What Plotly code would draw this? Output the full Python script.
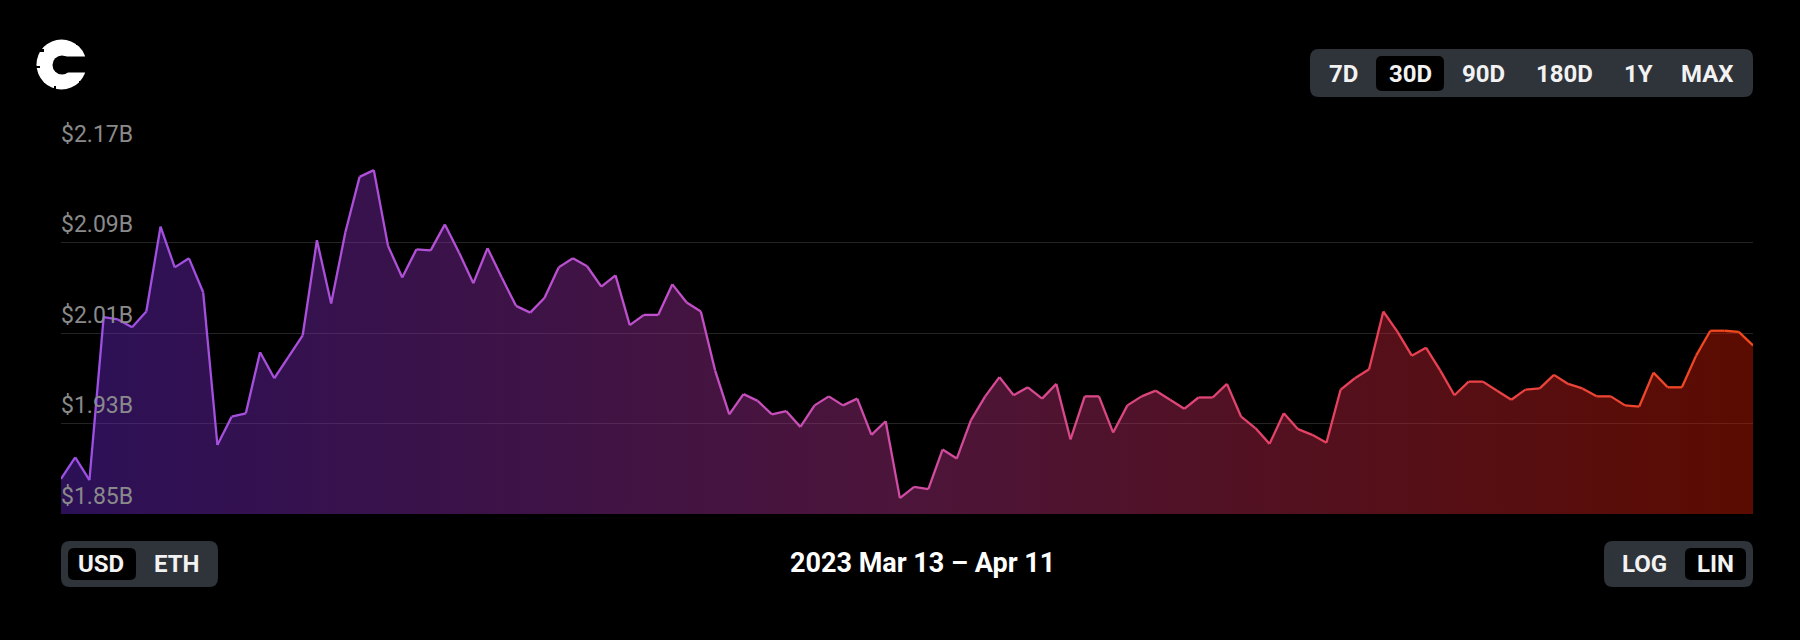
import plotly.graph_objects as go
import pandas as pd

# ---------------- data ----------------
start_date = "2023-03-13"
n_points = 120  # 6-hourly samples over 30 days
volume_b = [
    1.881, 1.900, 1.880, 2.024, 2.022, 2.015, 2.029, 2.104, 2.068, 2.076,
    2.046, 1.911, 1.936, 1.939, 1.993, 1.970, 1.989, 2.008, 2.092, 2.036,
    2.099, 2.148, 2.154, 2.087, 2.059, 2.084, 2.083, 2.106, 2.081, 2.054,
    2.085, 2.059, 2.034, 2.028, 2.041, 2.068, 2.076, 2.069, 2.051, 2.061,
    2.017, 2.026, 2.026, 2.053, 2.037, 2.029, 1.977, 1.938, 1.956, 1.950,
    1.938, 1.941, 1.927, 1.946, 1.954, 1.946, 1.952, 1.920, 1.932, 1.864,
    1.874, 1.872, 1.907, 1.899, 1.933, 1.954, 1.971, 1.955, 1.962, 1.952,
    1.965, 1.916, 1.954, 1.954, 1.922, 1.946, 1.954, 1.959, 1.951, 1.943,
    1.953, 1.953, 1.965, 1.936, 1.926, 1.912, 1.939, 1.925, 1.920, 1.913,
    1.960, 1.970, 1.978, 2.029, 2.011, 1.990, 1.997, 1.977, 1.955, 1.967,
    1.967, 1.959, 1.951, 1.960, 1.961, 1.973, 1.965, 1.961, 1.954, 1.954,
    1.946, 1.945, 1.975, 1.962, 1.962, 1.990, 2.012, 2.012, 2.011, 1.999,
]
tick_values = [1.85, 1.93, 2.01, 2.09, 2.17]
tick_labels = ["$1.85B", "$1.93B", "$2.01B", "$2.09B", "$2.17B"]
range_buttons = ["7D", "30D", "90D", "180D", "1Y", "MAX"]
currency_buttons = ["USD", "ETH"]
scale_buttons = ["LOG", "LIN"]
date_label = "2023 Mar 13 \u2013 Apr 11"

dates = pd.date_range(start_date, periods=n_points, freq="6h")

# ---------------- styling helpers ----------------
W, H = 1800, 640
L, R, T, B = 61, 1753, 152, 514
PW, PH = R - L, B - T


def px(x):
    return (x - L) / PW


def py(y):
    return (B - y) / PH


def rrect(x0, y0, x1, y1, r):
    pts = [
        ("M", [(x0 + r, y0)]),
        ("L", [(x1 - r, y0)]),
        ("Q", [(x1, y0), (x1, y0 + r)]),
        ("L", [(x1, y1 - r)]),
        ("Q", [(x1, y1), (x1 - r, y1)]),
        ("L", [(x0 + r, y1)]),
        ("Q", [(x0, y1), (x0, y1 - r)]),
        ("L", [(x0, y0 + r)]),
        ("Q", [(x0, y0), (x0 + r, y0)]),
    ]
    s = ""
    for cmd, coords in pts:
        s += cmd + " ".join(f"{px(a):.5f},{py(b):.5f}" for a, b in coords) + " "
    return s + "Z"


def pshape(kind, x0, y0, x1, y1, color):
    return dict(type=kind, xref="paper", yref="paper",
                x0=px(x0), x1=px(x1), y0=py(y1), y1=py(y0),
                fillcolor=color, line=dict(width=0), layer="above")


line_stops = [
    (0.0, (155, 80, 228)),
    (0.35, (192, 80, 205)),
    (0.55, (214, 74, 150)),
    (0.78, (232, 64, 88)),
    (1.0, (242, 72, 26)),
]


def line_color(t):
    for (t0, c0), (t1, c1) in zip(line_stops[:-1], line_stops[1:]):
        if t <= t1:
            f = (t - t0) / (t1 - t0) if t1 > t0 else 0
            c = [round(a + (b - a) * f) for a, b in zip(c0, c1)]
            return f"rgb({c[0]},{c[1]},{c[2]})"
    c = line_stops[-1][1]
    return f"rgb({c[0]},{c[1]},{c[2]})"


fig = go.Figure()

# gradient area fill
fig.add_trace(go.Scatter(
    x=dates, y=volume_b, mode="none", fill="tozeroy",
    fillgradient=dict(
        type="horizontal",
        colorscale=[
            [0.0, "rgba(95,35,188,0.46)"],
            [0.5, "rgba(165,45,125,0.46)"],
            [1.0, "rgba(198,25,0,0.46)"],
        ],
    ),
    hoverinfo="skip", showlegend=False,
))

# gradient line, drawn segment by segment
n = len(volume_b)
for i in range(n - 1):
    t = (i + 0.5) / (n - 1)
    fig.add_trace(go.Scatter(
        x=dates[i:i + 2], y=volume_b[i:i + 2], mode="lines",
        line=dict(color=line_color(t), width=2.3),
        hoverinfo="skip", showlegend=False,
    ))

shapes = []
annotations = []
btn_font = dict(family="Roboto", size=24, color="#f2f2f2", weight="bold")

# top-right range selector
shapes.append(dict(type="path", xref="paper", yref="paper",
                   path=rrect(1310, 49, 1753, 97, 9),
                   fillcolor="#2f333a", line=dict(width=0), layer="above"))
shapes.append(dict(type="path", xref="paper", yref="paper",
                   path=rrect(1376, 56, 1444, 91, 6),
                   fillcolor="#000000", line=dict(width=0), layer="above"))
for label, cx in zip(range_buttons, [1343, 1410, 1483, 1564, 1638, 1707]):
    annotations.append(dict(text=label, x=px(cx), y=py(74), xref="paper", yref="paper",
                            showarrow=False, xanchor="center", yanchor="middle",
                            font=btn_font))

# bottom-left currency toggle
shapes.append(dict(type="path", xref="paper", yref="paper",
                   path=rrect(61, 541, 218, 587, 9),
                   fillcolor="#2f333a", line=dict(width=0), layer="above"))
shapes.append(dict(type="path", xref="paper", yref="paper",
                   path=rrect(68, 548, 136, 580, 6),
                   fillcolor="#000000", line=dict(width=0), layer="above"))
for label, cx in zip(currency_buttons, [101, 177]):
    annotations.append(dict(text=label, x=px(cx), y=py(564), xref="paper", yref="paper",
                            showarrow=False, xanchor="center", yanchor="middle",
                            font=btn_font))

# bottom-right scale toggle
shapes.append(dict(type="path", xref="paper", yref="paper",
                   path=rrect(1604, 541, 1753, 587, 9),
                   fillcolor="#2f333a", line=dict(width=0), layer="above"))
shapes.append(dict(type="path", xref="paper", yref="paper",
                   path=rrect(1685, 548, 1746, 580, 6),
                   fillcolor="#000000", line=dict(width=0), layer="above"))
for label, cx in zip(scale_buttons, [1644, 1715]):
    annotations.append(dict(text=label, x=px(cx), y=py(564), xref="paper", yref="paper",
                            showarrow=False, xanchor="center", yanchor="middle",
                            font=btn_font))

# date range label
annotations.append(dict(text=date_label, x=px(922), y=py(563), xref="paper", yref="paper",
                        showarrow=False, xanchor="center", yanchor="middle",
                        font=dict(family="Roboto", size=27, color="#ffffff", weight="bold")))

# logo: heavy "C" ring with small notches
shapes.append(pshape("circle", 36.5, 39.5, 86.5, 89.5, "#ffffff"))
shapes.append(pshape("circle", 52.5, 55.5, 71.5, 74.5, "#000000"))
shapes.append(pshape("rect", 63, 56.5, 88, 72.5, "#000000"))
for nx0, ny0, nx1, ny1 in [(40, 49, 44, 52), (35, 66, 40, 68), (54, 86, 56, 91),
                           (79, 81, 82, 84), (76, 42, 79, 45)]:
    shapes.append(pshape("rect", nx0, ny0, nx1, ny1, "#000000"))

fig.update_layout(
    width=W, height=H,
    margin=dict(l=L, r=W - R, t=T, b=H - B, pad=0),
    paper_bgcolor="#000000", plot_bgcolor="#000000",
    showlegend=False,
    shapes=shapes, annotations=annotations,
    xaxis=dict(type="date", range=[dates[0], dates[-1]], visible=False,
               showgrid=False, zeroline=False, fixedrange=True),
    yaxis=dict(range=[tick_values[0], tick_values[-1]],
               tickvals=tick_values, ticktext=tick_labels,
               ticklabelposition="inside top", ticklabeloverflow="allow",
               ticklabelstandoff=-3, ticklabelshift=-2,
               tickfont=dict(family="Roboto", size=23, color="#8a8a8a"),
               showgrid=True, gridcolor="#242424", gridwidth=1,
               zeroline=False, showline=False, ticks="", fixedrange=True),
    hovermode=False,
)

fig.write_html(
    "out.html",
    config={"displayModeBar": False},
    post_script="document.body.style.margin='0';document.body.style.background='#000';",
)
